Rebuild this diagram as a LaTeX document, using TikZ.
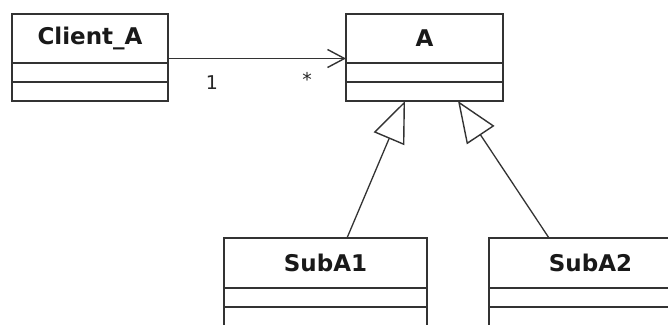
\documentclass[tikz,border=0pt]{standalone}
\usepackage{fontspec}
\setmainfont{DejaVu Sans}
\usetikzlibrary{arrows.meta}
\begin{document}
\begin{tikzpicture}[x=1pt,y=-1pt,
  line width=1.8pt,
  ln/.style={draw=black!80},
  hdr/.style={ln, anchor=north west, inner sep=0pt, outer sep=0pt, minimum height=49pt,
    font=\fontsize{23}{25}\selectfont\bfseries, text=black!90},
  cmp/.style={ln, anchor=north west, inner sep=0pt, outer sep=0pt, minimum height=19pt},
  gen/.style={ln, line width=1.3pt, -{Triangle[open, length=41pt, width=33pt, line width=1.4pt]}},
  assoc/.style={ln, line width=1.3pt, -{Straight Barb[length=17pt, width=18pt, line width=1.4pt]}},
  mult/.style={font=\fontsize{19}{21}\selectfont, text=black!85, inner sep=0pt}
]
\useasboundingbox (0,0) rectangle (668,324);
\fill[white] (0,0) rectangle (668,324);
\clip (0,0) rectangle (668,324);

% Client_A
\node[hdr, minimum width=156pt] (ca) at (12,14) {Client\_A};
\node[cmp, minimum width=156pt] (ca1) at (ca.south west) {};
\node[cmp, minimum width=156pt] (ca2) at (ca1.south west) {};

% A
\node[hdr, minimum width=157pt] (a) at (346,14) {A};
\node[cmp, minimum width=157pt] (a1) at (a.south west) {};
\node[cmp, minimum width=157pt] (a2) at (a1.south west) {};

% SubA1
\node[hdr, minimum width=203pt, minimum height=50pt] (s1) at (224,238) {SubA1};
\node[cmp, minimum width=203pt] (s11) at (s1.south west) {};
\node[cmp, minimum width=203pt, minimum height=30pt] (s12) at (s11.south west) {};

% SubA2
\node[hdr, minimum width=203pt, minimum height=50pt] (s2) at (489,238) {SubA2};
\node[cmp, minimum width=203pt] (s21) at (s2.south west) {};
\node[cmp, minimum width=203pt, minimum height=30pt] (s22) at (s21.south west) {};

% association
\draw[assoc] ([yshift=-20pt]ca.east) -- ([yshift=-20pt]a.west);
\node[mult] (m1) at (212,83) {1};
\node[mult] (m2) at (307,79) {*};

% generalizations
\draw[gen] ([xshift=123pt]s1.north west) -- ([xshift=59pt]a2.south west);
\draw[gen] ([xshift=60pt]s2.north west) -- ([xshift=112pt]a2.south west);
\end{tikzpicture}
\end{document}
